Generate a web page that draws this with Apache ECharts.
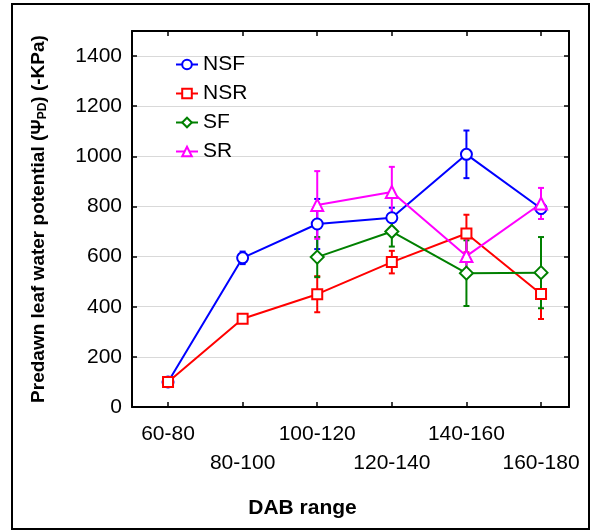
<!DOCTYPE html>
<html>
<head>
<meta charset="utf-8">
<script src="https://cdn.jsdelivr.net/npm/echarts@6/dist/echarts.min.js"></script>
<style>
  html, body { margin: 0; padding: 0; background: #fff; }
  #chart { width: 592px; height: 531px; }
</style>
</head>
<body>
<div id="chart"></div>
<script>
// DAB ranges on the x axis
const cats = ['60-80', '80-100', '100-120', '120-140', '140-160', '160-180'];
const yTicks = [0, 200, 400, 600, 800, 1000, 1200, 1400];

// means and error bars
const nsf = [100, 595, 730, 755, 1008, 792];
const nsfErr = [5, 25, 100, 40, 95, 20];
const nsr = [100, 352, 450, 578, 692, 451];
const nsrErr = [5, 12, 72, 45, 75, 100];
const sf = [null, null, 598, 700, 534, 536];
const sfErr = [null, null, 80, 60, 131, 142];
const sr = [null, null, 806, 858, 602, 812];
const srErr = [null, null, 135, 100, 80, 62];

const font = 'Liberation Sans, Arial, sans-serif';

const pairs = vals => vals.map((v, i) => [i, v]).filter(p => p[1] != null);
const bars = (vals, err) => vals.map((v, i) => [i, v - err[i], v + err[i]]).filter(p => vals[p[0]] != null);

function lineSeries(name, vals, color, symbol, size) {
  return {
    name: name,
    type: 'line',
    data: pairs(vals),
    color: color,
    symbol: symbol,
    symbolSize: size,
    lineStyle: { width: 2, color: color },
    itemStyle: { color: '#fff', borderColor: color, borderWidth: 2 },
    z: 3
  };
}

function errSeries(name, vals, err, color) {
  return {
    name: name + ' err',
    type: 'custom',
    data: bars(vals, err),
    encode: { x: 0, y: [1, 2] },
    z: 2,
    renderItem: function (params, api) {
      const x = api.value(0);
      const lo = api.coord([x, api.value(1)]);
      const hi = api.coord([x, api.value(2)]);
      const w = 3;
      const st = { stroke: color, lineWidth: 2 };
      return {
        type: 'group',
        children: [
          { type: 'line', shape: { x1: lo[0], y1: lo[1], x2: hi[0], y2: hi[1] }, style: st },
          { type: 'line', shape: { x1: lo[0] - w, y1: lo[1], x2: lo[0] + w, y2: lo[1] }, style: st },
          { type: 'line', shape: { x1: hi[0] - w, y1: hi[1], x2: hi[0] + w, y2: hi[1] }, style: st }
        ]
      };
    }
  };
}

const myChart = echarts.init(document.getElementById('chart'));

const tickIdx = cats.map((c, i) => i);
const evenIdx = tickIdx.filter(i => i % 2 === 0);
const oddIdx = tickIdx.filter(i => i % 2 === 1);

const option = {
  backgroundColor: '#fff',
  animation: false,
  textStyle: { fontFamily: font },
  grid: { left: 132, right: 23, top: 31, bottom: 124 },
  graphic: [
    {
      type: 'rect',
      shape: { x: 12, y: 4, width: 577, height: 525 },
      style: { fill: 'none', stroke: '#000', lineWidth: 2 }
    }
  ],
  legend: {
    data: ['NSF', 'NSR', 'SF', 'SR'],
    orient: 'vertical',
    left: 170,
    top: 49,
    itemWidth: 22,
    itemHeight: 12,
    itemGap: 8,
    textStyle: { fontSize: 21, color: '#000', fontFamily: font }
  },
  xAxis: [
    {
      type: 'value',
      min: -0.483,
      max: 5.375,
      name: 'DAB range',
      nameLocation: 'middle',
      nameGap: 91,
      nameTextStyle: { fontSize: 21, fontWeight: 'bold', color: '#000', padding: [0, 96, 0, 0] },
      axisLine: { show: true, onZero: false, lineStyle: { color: '#000', width: 2 } },
      axisTick: { show: true, inside: true, length: 5, customValues: tickIdx, lineStyle: { color: '#000', width: 1.5 } },
      axisLabel: {
        customValues: evenIdx,
        fontSize: 21,
        color: '#000',
        margin: 17,
        formatter: v => cats[v]
      },
      splitLine: { show: false }
    },
    {
      type: 'value',
      position: 'top',
      min: -0.483,
      max: 5.375,
      axisLine: { show: true, onZero: false, lineStyle: { color: '#000', width: 2 } },
      axisTick: { show: true, inside: true, length: 5, customValues: tickIdx, lineStyle: { color: '#000', width: 1.5 } },
      axisLabel: { show: false },
      splitLine: { show: false }
    },
    {
      // second row of labels for the odd ranges
      type: 'value',
      position: 'bottom',
      min: -0.483,
      max: 5.375,
      axisLine: { show: false, onZero: false },
      axisTick: { show: false },
      axisLabel: {
        customValues: oddIdx,
        fontSize: 21,
        color: '#000',
        margin: 46,
        formatter: v => cats[v]
      },
      splitLine: { show: false }
    }
  ],
  yAxis: [
    {
      type: 'value',
      min: 0,
      max: 1500,
      name: 'Predawn leaf water potential (Ψ{sub|PD}) (-KPa)',
      nameLocation: 'middle',
      nameRotate: 90,
      nameGap: 83,
      nameTextStyle: {
        fontSize: 19,
        fontWeight: 'bold',
        color: '#000',
        rich: { sub: { fontSize: 12, fontWeight: 'bold', color: '#000', verticalAlign: 'bottom', padding: [9, 0, 0, 0] } }
      },
      axisLine: { show: true, onZero: false, lineStyle: { color: '#000', width: 2 } },
      axisTick: { show: true, inside: true, length: 5, customValues: yTicks, lineStyle: { color: '#000', width: 1.5 } },
      axisLabel: { customValues: yTicks, fontSize: 21, color: '#000', margin: 10, formatter: v => String(v) },
      splitLine: { show: true, lineStyle: { color: '#d9d9d9', width: 1 } }
    },
    {
      type: 'value',
      position: 'right',
      min: 0,
      max: 1500,
      axisLine: { show: true, onZero: false, lineStyle: { color: '#000', width: 2 } },
      axisTick: { show: true, inside: true, length: 5, customValues: yTicks, lineStyle: { color: '#000', width: 1.5 } },
      axisLabel: { show: false },
      splitLine: { show: false }
    }
  ],
  series: [
    errSeries('NSF', nsf, nsfErr, '#0000ff'),
    errSeries('NSR', nsr, nsrErr, '#ff0000'),
    errSeries('SF', sf, sfErr, '#008000'),
    errSeries('SR', sr, srErr, '#ff00ff'),
    lineSeries('NSF', nsf, '#0000ff', 'circle', 11),
    lineSeries('NSR', nsr, '#ff0000', 'rect', 10),
    lineSeries('SF', sf, '#008000', 'diamond', 13),
    lineSeries('SR', sr, '#ff00ff', 'triangle', 12)
  ]
};

myChart.setOption(option);
</script>
</body>
</html>
